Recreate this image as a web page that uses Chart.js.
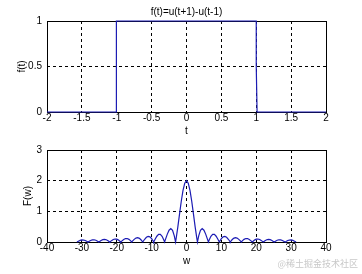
<!DOCTYPE html>
<html>
<head>
<meta charset="utf-8">
<script src="https://cdn.jsdelivr.net/npm/chart.js@4"></script>
<style>
  body { margin: 0; background: #fff; width: 362px; height: 274px; position: relative; overflow: hidden; }
  canvas { position: absolute; left: 0; }
  #top { top: 0; }
  #bottom { top: 137px; }
  #mark { position: absolute; right: 4px; bottom: 4px; font: 9px "Noto Sans CJK SC", sans-serif; color: #c8c8c8; }
</style>
</head>
<body>
<canvas id="top" width="362" height="137"></canvas>
<canvas id="bottom" width="362" height="137"></canvas>
<div id="mark">@稀土掘金技术社区</div>
<script>
// f(t) = u(t+1) - u(t-1), sampled
const tValues = [-2, -1.01, -1.01, -1, 1, 1, 1.012, 2];
const fValues = [0, 0, 0.33, 1, 1, 0.5, 0, 0];
const tTicks = [-2, -1.5, -1, -0.5, 0, 0.5, 1, 1.5, 2];

// |F(w)|
const wValues = [
  -31.42, -31, -30.5, -30, -29.5, -29, -28.5, -28.27, -28, -27.5, -27, -26.5, -26, -25.5, -25.13,
  -25, -24.5, -24, -23.5, -23, -22.5, -22, -21.99, -21.5, -21, -20.5, -20, -19.5, -19, -18.85,
  -18.5, -18, -17.5, -17, -16.5, -16, -15.71, -15.5, -15, -14.5, -14, -13.5, -13, -12.57,
  -12.5, -12, -11.5, -11, -10.5, -10, -9.5, -9.42, -9, -8.5, -8, -7.5, -7, -6.5, -6.28,
  -6, -5.5, -5, -4.5, -4, -3.5, -3.14, -3, -2.5, -2, -1.5, -1, -0.5,
  0,
  0.5, 1, 1.5, 2, 2.5, 3, 3.14, 3.5, 4, 4.5, 5, 5.5, 6,
  6.28, 6.5, 7, 7.5, 8, 8.5, 9, 9.42, 9.5, 10, 10.5, 11, 11.5, 12, 12.5,
  12.57, 13, 13.5, 14, 14.5, 15, 15.5, 15.71, 16, 16.5, 17, 17.5, 18, 18.5,
  18.85, 19, 19.5, 20, 20.5, 21, 21.5, 21.99, 22, 22.5, 23, 23.5, 24, 24.5, 25,
  25.13, 25.5, 26, 26.5, 27, 27.5, 28, 28.27, 28.5, 29, 29.5, 30, 30.5, 31, 31.42
];
const magValues = [
  0, 0.026, 0.052, 0.066, 0.064, 0.046, 0.016, 0, 0.019, 0.051, 0.071, 0.074, 0.059, 0.028, 0,
  0.011, 0.048, 0.076, 0.085, 0.074, 0.043, 0.001, 0, 0.044, 0.080, 0.097, 0.091, 0.062, 0.016, 0,
  0.037, 0.083, 0.112, 0.113, 0.086, 0.036, 0, 0.027, 0.087, 0.129, 0.142, 0.119, 0.065, 0,
  0.011, 0.089, 0.152, 0.182, 0.168, 0.109, 0.016, 0, 0.092, 0.188, 0.247, 0.250, 0.188, 0.066, 0,
  0.093, 0.257, 0.384, 0.435, 0.378, 0.200, 0, 0.094, 0.479, 0.909, 1.330, 1.683, 1.918,
  2,
  1.918, 1.683, 1.330, 0.909, 0.479, 0.094, 0, 0.200, 0.378, 0.435, 0.384, 0.257, 0.093,
  0, 0.066, 0.188, 0.250, 0.247, 0.188, 0.092, 0, 0.016, 0.109, 0.168, 0.182, 0.152, 0.089, 0.011,
  0, 0.065, 0.119, 0.142, 0.129, 0.087, 0.027, 0, 0.036, 0.086, 0.113, 0.112, 0.083, 0.037,
  0, 0.016, 0.062, 0.091, 0.097, 0.080, 0.044, 0, 0.001, 0.043, 0.074, 0.085, 0.076, 0.048, 0.011,
  0, 0.028, 0.059, 0.074, 0.071, 0.051, 0.019, 0, 0.016, 0.046, 0.064, 0.066, 0.052, 0.026, 0
];
const wTicks = [-40, -30, -20, -10, 0, 10, 20, 30, 40];

const lineColor = '#1c1cb4';
const font = { family: 'Liberation Sans, Arial, sans-serif', size: 10 };

// box around plot area (under the line) plus optional title on top
const frame = {
  id: 'frame',
  beforeDatasetsDraw(chart, args, opts) {
    const { ctx, chartArea: a } = chart;
    ctx.save();
    ctx.strokeStyle = '#000';
    ctx.lineWidth = 1;
    ctx.strokeRect(Math.round(a.left) + 0.5, Math.round(a.top) + 0.5,
      Math.round(a.right - a.left), Math.round(a.bottom - a.top));
    if (opts.text) {
      ctx.fillStyle = '#000';
      ctx.font = '10px Liberation Sans, Arial, sans-serif';
      ctx.textAlign = 'center';
      ctx.textBaseline = 'middle';
      ctx.fillText(opts.text, (a.left + a.right) / 2, 12);
    }
    ctx.restore();
  }
};

function makeChart(id, xs, ys, xTicks, xLabel, yMax, yStep, yLabel, title, padTop, padBottom, padLeft) {
  const points = xs.map((x, i) => ({ x: x, y: ys[i] }));
  const gridColor = ctx => (ctx.index === 0 || ctx.index === ctx.chart.scales[ctx.scale.id].ticks.length - 1) ? 'rgba(0,0,0,0)' : '#000';
  return new Chart(document.getElementById(id), {
    type: 'line',
    data: {
      datasets: [{
        data: points,
        borderColor: lineColor,
        borderWidth: 1.2,
        pointRadius: 0,
        tension: 0,
        clip: 3
      }]
    },
    plugins: [frame],
    options: {
      responsive: false,
      animation: false,
      layout: { padding: { top: padTop, right: 36, bottom: padBottom, left: padLeft } },
      plugins: {
        legend: { display: false },
        tooltip: { enabled: false },
        frame: { text: title }
      },
      scales: {
        x: {
          type: 'linear',
          min: xTicks[0],
          max: xTicks[xTicks.length - 1],
          afterBuildTicks: s => { s.ticks = xTicks.map(v => ({ value: v })); },
          afterFit: s => { s.height = 25; },
          grid: { color: gridColor, drawTicks: false },
          border: { display: false, dash: [3, 3] },
          ticks: { color: '#000', font: font, padding: 0, maxRotation: 0, autoSkip: false, callback: v => String(v) },
          title: { display: true, text: xLabel, color: '#000', font: font, padding: 0 }
        },
        y: {
          min: 0,
          max: yMax,
          afterFit: s => { s.width = 47 - padLeft; },
          grid: { color: gridColor, drawTicks: false },
          border: { display: false, dash: [3, 3] },
          ticks: { color: '#000', font: font, stepSize: yStep, padding: 5, callback: v => String(v) },
          title: { display: true, text: yLabel, color: '#000', font: font, padding: 0 }
        }
      }
    }
  });
}

makeChart('top', tValues, fValues, tTicks, 't', 1, 0.5, 'f(t)', 'f(t)=u(t+1)-u(t-1)', 21, 0, 16);
makeChart('bottom', wValues, magValues, wTicks, 'w', 3, 1, 'F(w)', '', 13, 7, 22);
</script>
</body>
</html>
